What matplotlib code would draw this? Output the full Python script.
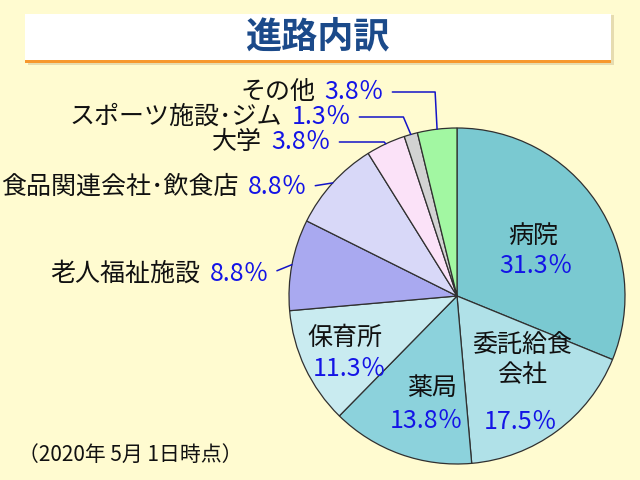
import numpy as np
import matplotlib
matplotlib.use("Agg")
import matplotlib.pyplot as plt
from matplotlib.patches import Rectangle

plt.rcParams['font.family'] = ['Noto Sans CJK JP', 'DejaVu Sans']

# data (clockwise from 12 o'clock)
labels = ['病院', '委託給食\n会社', '薬局', '保育所', '老人福祉施設',
          '食品関連会社･飲食店', '大学', 'スポーツ施設･ジム', 'その他']
values = [31.3, 17.5, 13.8, 11.3, 8.8, 8.8, 3.8, 1.3, 3.8]
colors = ['#7ac9d1', '#b0e1e8', '#8cd2dc', '#c9ebf0', '#a9a9f0',
          '#d8d8f8', '#fbe2f8', '#d2d2d2', '#a2f7a2']

title = '進路内訳'
note = '（2020年 5月 1日時点）'

BG = '#fffbd0'
BLUE = '#1414e6'
FS = 18

fig = plt.figure(figsize=(6.4, 4.8), dpi=100, facecolor=BG)
ax = fig.add_axes([0, 0, 1, 1])
ax.set_facecolor(BG)


def py(y):
    # pixel row (from top) -> data y
    return 480 - y


cx, cy, R = 457, py(296), 168
wedges, _ = ax.pie(values, colors=colors, startangle=90, counterclock=False,
                   center=(cx, cy), radius=R, frame=True,
                   wedgeprops=dict(edgecolor='#303030', linewidth=0.9))

ax.set_xlim(0, 640)
ax.set_ylim(0, 480)
ax.set_aspect('equal')
ax.axis('off')

# title box
ax.add_patch(Rectangle((28, py(65)), 586, 50, facecolor='#e6dcb0', edgecolor='none', zorder=1))
ax.add_patch(Rectangle((25, py(62)), 586, 48, facecolor='white', edgecolor='none', zorder=2))
ax.add_patch(Rectangle((25, py(63)), 586, 3, facecolor='#f7982e', edgecolor='none', zorder=3))
ax.text(317, py(37), title, ha='center', va='center', fontsize=26, fontweight='bold',
        color='#1b4a8a', zorder=4)

# labels inside the pie: (name xy, pct xy) in pixels
inside = {0: ((533, 236), (536, 266)),
          1: ((522, 360), (521, 422)),
          2: ((432, 388), (427, 421)),
          3: ((345, 338), (350, 369))}
for i, ((nx, ny), (px, pyy)) in inside.items():
    ax.text(nx, py(ny), labels[i], ha='center', va='center', fontsize=FS,
            color='#111111', linespacing=1.2)
    ax.text(px, py(pyy), f'{values[i]}％', ha='center', va='center', fontsize=FS,
            color=BLUE)

# labels outside: (pct right end x, y, connection)
outside = {8: (384, 92, 'angle,angleA=0,angleB=93,rad=0'),
           7: (351, 117, 'angle,angleA=0,angleB=113,rad=0'),
           6: (331, 142, 'angle,angleA=0,angleB=129,rad=0'),
           5: (307, 187, 'arc3'),
           4: (269, 274, 'arc3')}
for i, (xe, ye, cs) in outside.items():
    w = wedges[i]
    mid = np.deg2rad((w.theta1 + w.theta2) / 2)
    tip = (cx + R * np.cos(mid), cy + R * np.sin(mid))
    t = ax.annotate(f'{values[i]}％', xy=tip, xytext=(xe, py(ye)), ha='right',
                    va='center', fontsize=FS, color=BLUE,
                    arrowprops=dict(arrowstyle='-', color='#1414c8', lw=1.1,
                                    connectionstyle=cs, relpos=(1, 0.5),
                                    shrinkA=4, shrinkB=0))
    fig.canvas.draw()
    bb = t.get_window_extent()
    x0 = ax.transData.inverted().transform((bb.x0, bb.y0))[0]
    ax.text(x0 - 9, py(ye), labels[i], ha='right', va='center', fontsize=FS,
            color='#111111')

ax.text(18, py(455), note, ha='left', va='center', fontsize=15, color='#111111')

fig.savefig('out.png', dpi=100, facecolor=BG)
